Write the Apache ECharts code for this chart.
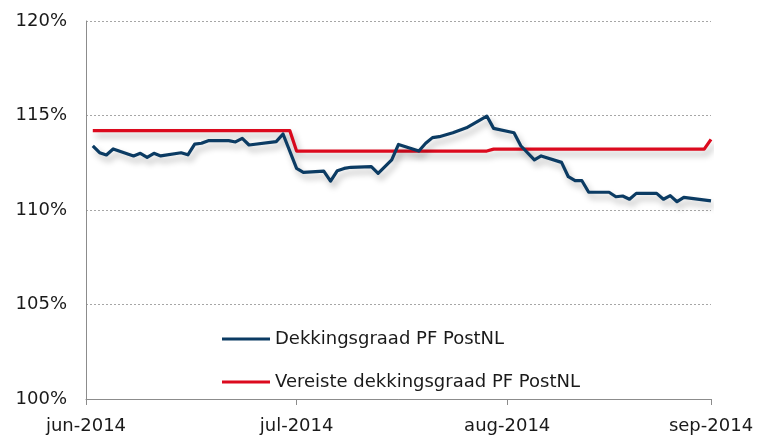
<!DOCTYPE html>
<html>
<head>
<meta charset="utf-8">
<script src="https://cdn.jsdelivr.net/npm/echarts@6/dist/echarts.min.js"></script>
<style>
html,body{margin:0;padding:0;background:#fff;}
#chart{width:773px;height:435px;}
</style>
</head>
<body>
<div id="chart"></div>
<script>
// x = days since 1 June 2014
const tickDays = [0, 31, 62, 92];
const tickLabels = ['jun-2014', 'jul-2014', 'aug-2014', 'sep-2014'];
const yTicks = [100, 105, 110, 115, 120];

const seriesNames = ['Dekkingsgraad PF PostNL', 'Vereiste dekkingsgraad PF PostNL'];

const blueDays = [1, 2, 3, 4, 7, 8, 9, 10, 11, 14, 15, 16, 17, 18, 21, 22, 23, 24, 28, 29,
  31, 32, 35, 36, 37, 38, 39, 42, 43, 45, 46, 49, 50, 51, 52, 54, 56, 59, 60, 63,
  64, 66, 67, 70, 71, 72, 73, 74, 77, 78, 79, 80, 81, 84, 85, 86, 87, 88, 92];
const blueValues = [113.39, 113.03, 112.91, 113.23, 112.86, 113.00, 112.79, 113.00, 112.86, 113.03, 112.92, 113.49, 113.53, 113.67, 113.67, 113.60, 113.79, 113.44, 113.62, 114.02,
  112.20, 111.99, 112.06, 111.53, 112.08, 112.20, 112.26, 112.29, 111.94, 112.65, 113.47, 113.12, 113.53, 113.83, 113.88, 114.09, 114.35, 114.97, 114.32, 114.09,
  113.40, 112.65, 112.86, 112.52, 111.76, 111.55, 111.55, 110.94, 110.94, 110.70, 110.74, 110.57, 110.88, 110.88, 110.57, 110.76, 110.44, 110.67, 110.48];

const redDays = [1, 30, 31, 59, 60, 91, 92];
const redValues = [114.20, 114.20, 113.12, 113.12, 113.22, 113.22, 113.74];

const zip = (xs, ys) => xs.map((x, i) => [x, ys[i]]);

const font = 'DejaVu Sans, Verdana, sans-serif';
const fs = 18;
const chart = echarts.init(document.getElementById('chart'), null, {renderer: 'canvas'});
chart.setOption({
  animation: false,
  backgroundColor: '#ffffff',
  grid: {left: 86, right: 62, top: 21, bottom: 36, containLabel: false},
  legend: {
    orient: 'vertical',
    left: 217,
    top: 325,
    icon: 'rect',
    itemWidth: 48,
    itemHeight: 3,
    itemGap: 25,
    data: seriesNames,
    textStyle: {fontFamily: font, fontSize: fs, color: '#1a1a1a', padding: [0, 0, 0, 0]}
  },
  xAxis: {
    type: 'value',
    min: tickDays[0],
    max: tickDays[tickDays.length - 1],
    axisLine: {show: true, lineStyle: {color: '#8c8c8c', width: 1}},
    axisTick: {show: true, customValues: tickDays, length: 6, lineStyle: {color: '#8c8c8c'}},
    axisLabel: {
      customValues: tickDays,
      margin: 18,
      fontFamily: font, fontSize: fs, color: '#1a1a1a',
      formatter: v => tickLabels[tickDays.indexOf(v)] || ''
    },
    splitLine: {show: false}
  },
  yAxis: {
    type: 'value',
    min: yTicks[0],
    max: yTicks[yTicks.length - 1],
    interval: 5,
    axisLine: {show: true, lineStyle: {color: '#8c8c8c', width: 1}},
    axisTick: {show: false},
    axisLabel: {margin: 19, fontFamily: font, fontSize: fs, color: '#1a1a1a', formatter: '{value}%'},
    splitLine: {show: true, lineStyle: {color: '#a6a6a6', type: [2, 2], width: 1}}
  },
  series: [
    {
      name: seriesNames[0],
      type: 'line',
      data: zip(blueDays, blueValues),
      showSymbol: false,
      symbol: 'none',
      z: 4,
      color: '#0b3b63',
      lineStyle: {width: 3.2, color: '#0b3b63', join: 'round',
        shadowColor: 'rgba(0,0,0,0.28)', shadowBlur: 6, shadowOffsetX: 3, shadowOffsetY: 5}
    },
    {
      name: seriesNames[1],
      type: 'line',
      data: zip(redDays, redValues),
      showSymbol: false,
      symbol: 'none',
      z: 3,
      color: '#dc0a1e',
      lineStyle: {width: 3.2, color: '#dc0a1e', join: 'round',
        shadowColor: 'rgba(0,0,0,0.28)', shadowBlur: 6, shadowOffsetX: 3, shadowOffsetY: 5}
    }
  ]
});
</script>
</body>
</html>
